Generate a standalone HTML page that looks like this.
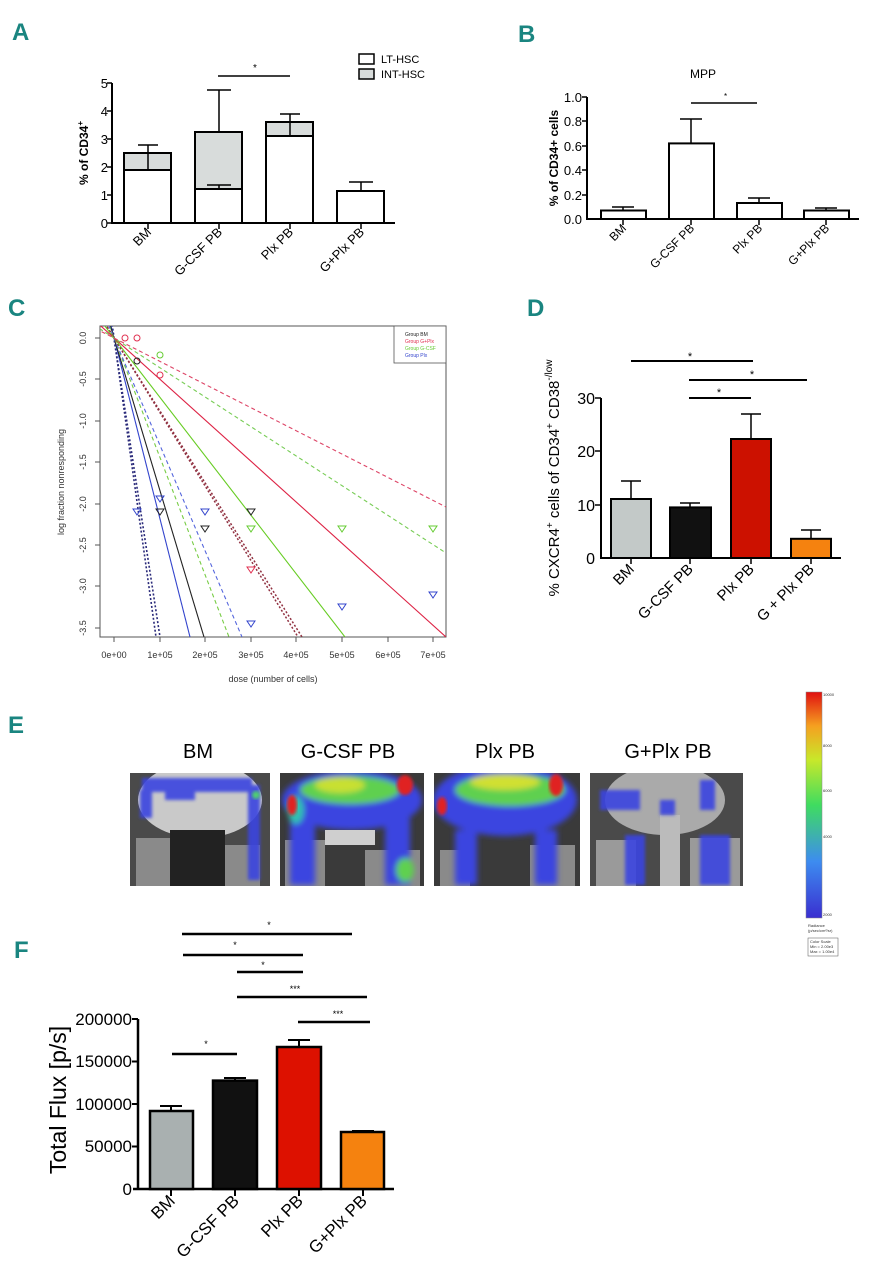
<!DOCTYPE html>
<html><head><meta charset="utf-8"><style>
html,body{margin:0;padding:0;background:#fff;}
svg{display:block;font-family:"Liberation Sans",Arial,sans-serif;}
.lt{font-family:"Liberation Sans Narrow","Liberation Sans",sans-serif;font-weight:bold;fill:#1a8580;font-size:24px;}
</style></head><body>
<svg width="876" height="1280" viewBox="0 0 876 1280" xmlns="http://www.w3.org/2000/svg">
<defs>
<clipPath id="cc"><rect x="100" y="326" width="346" height="311"/></clipPath>
<clipPath id="i1"><rect x="130" y="773" width="140" height="113"/></clipPath>
<clipPath id="i2"><rect x="280" y="773" width="144" height="113"/></clipPath>
<clipPath id="i3"><rect x="434" y="773" width="146" height="113"/></clipPath>
<clipPath id="i4"><rect x="590" y="773" width="153" height="113"/></clipPath>
<filter id="bl" x="-20%" y="-20%" width="140%" height="140%"><feGaussianBlur stdDeviation="3"/></filter>
<filter id="bl2"><feGaussianBlur stdDeviation="1.5"/></filter>
<linearGradient id="cb" x1="0" y1="1" x2="0" y2="0">
<stop offset="0" stop-color="#3a2fd0"/><stop offset="0.25" stop-color="#3d8cf0"/><stop offset="0.5" stop-color="#3fdc60"/><stop offset="0.7" stop-color="#c8e82a"/><stop offset="0.85" stop-color="#f5a020"/><stop offset="1" stop-color="#e01010"/></linearGradient>
</defs>

<!-- Letters -->
<text class="lt" x="12" y="40">A</text>
<text class="lt" x="518" y="42">B</text>
<text class="lt" x="8" y="316">C</text>
<text class="lt" x="527" y="316">D</text>
<text class="lt" x="8" y="733">E</text>
<text class="lt" x="14" y="958">F</text>

<!-- Panel A -->
<g stroke="#000" stroke-width="2" fill="none">
<line x1="112" y1="83" x2="112" y2="224"/><line x1="111" y1="223" x2="395" y2="223"/>
<g stroke-width="1.5"><line x1="107" y1="83" x2="112" y2="83"/><line x1="107" y1="111" x2="112" y2="111"/><line x1="107" y1="139" x2="112" y2="139"/><line x1="107" y1="167" x2="112" y2="167"/><line x1="107" y1="195" x2="112" y2="195"/><line x1="107" y1="223" x2="112" y2="223"/>
<line x1="148" y1="223" x2="148" y2="229"/><line x1="219" y1="223" x2="219" y2="229"/><line x1="290" y1="223" x2="290" y2="229"/><line x1="361" y1="223" x2="361" y2="229"/></g>
<rect x="124" y="153" width="47" height="70" fill="#fff"/><rect x="124" y="153" width="47" height="17" fill="#d8dcdb"/><line x1="124" y1="170" x2="171" y2="170"/>
<rect x="195" y="132" width="47" height="91" fill="#fff"/><rect x="195" y="132" width="47" height="57" fill="#d8dcdb"/><line x1="195" y1="189" x2="242" y2="189"/>
<rect x="266" y="122" width="47" height="101" fill="#fff"/><rect x="266" y="122" width="47" height="14" fill="#d8dcdb"/><line x1="266" y1="136" x2="313" y2="136"/>
<rect x="337" y="191" width="47" height="32" fill="#fff"/>
<g stroke-width="1.5"><line x1="148" y1="170" x2="148" y2="145"/><line x1="138" y1="145" x2="158" y2="145"/>
<line x1="219" y1="132" x2="219" y2="90"/><line x1="207" y1="90" x2="231" y2="90"/>
<line x1="219" y1="189" x2="219" y2="185"/><line x1="207" y1="185" x2="231" y2="185"/>
<line x1="290" y1="136" x2="290" y2="114"/><line x1="280" y1="114" x2="300" y2="114"/>
<line x1="361" y1="191" x2="361" y2="182"/><line x1="349" y1="182" x2="373" y2="182"/>
<line x1="218" y1="76" x2="290" y2="76"/></g>
<rect x="359" y="54" width="15" height="10" stroke-width="1.5" fill="#fff"/><rect x="359" y="69" width="15" height="10" stroke-width="1.5" fill="#d8dcdb"/>
</g>
<text x="253" y="71" font-size="10">*</text>
<g font-size="11"><text x="381" y="63">LT-HSC</text><text x="381" y="78">INT-HSC</text></g>
<g font-size="13" text-anchor="end"><text x="108" y="88">5</text><text x="108" y="116">4</text><text x="108" y="144">3</text><text x="108" y="172">2</text><text x="108" y="200">1</text><text x="108" y="228">0</text></g>
<text transform="translate(88,153) rotate(-90)" font-size="12" font-weight="bold" text-anchor="middle">% of  CD34<tspan font-size="8" dy="-5">+</tspan></text>
<g font-size="13" text-anchor="end">
<text transform="translate(152,233) rotate(-45)">BM</text>
<text transform="translate(223,233) rotate(-45)">G-CSF PB</text>
<text transform="translate(294,233) rotate(-45)">Plx PB</text>
<text transform="translate(365,233) rotate(-45)">G+Plx PB</text></g>

<!-- Panel B -->
<g stroke="#000" stroke-width="2" fill="#fff">
<line x1="587" y1="97" x2="587" y2="220"/><line x1="586" y1="219" x2="859" y2="219"/>
<g stroke-width="1.5"><line x1="582" y1="97" x2="587" y2="97"/><line x1="582" y1="121" x2="587" y2="121"/><line x1="582" y1="146" x2="587" y2="146"/><line x1="582" y1="170" x2="587" y2="170"/><line x1="582" y1="195" x2="587" y2="195"/>
<line x1="623" y1="219" x2="623" y2="225"/><line x1="691" y1="219" x2="691" y2="225"/><line x1="759" y1="219" x2="759" y2="225"/><line x1="826" y1="219" x2="826" y2="225"/></g>
<rect x="601" y="210.5" width="45" height="8.5"/><rect x="669" y="143.4" width="45" height="75.6"/><rect x="737" y="203" width="45" height="16"/><rect x="804" y="210.5" width="45" height="8.5"/>
<g stroke-width="1.5"><line x1="623" y1="210" x2="623" y2="207"/><line x1="612" y1="207" x2="634" y2="207"/>
<line x1="691" y1="143" x2="691" y2="119"/><line x1="680" y1="119" x2="702" y2="119"/>
<line x1="759" y1="203" x2="759" y2="198"/><line x1="748" y1="198" x2="770" y2="198"/>
<line x1="826" y1="210" x2="826" y2="208"/><line x1="815" y1="208" x2="837" y2="208"/>
<line x1="691" y1="103" x2="757" y2="103"/></g></g>
<text x="724" y="99" font-size="8">*</text>
<text x="703" y="78" font-size="12" text-anchor="middle">MPP</text>
<g font-size="13" text-anchor="end"><text x="582" y="102">1.0</text><text x="582" y="126">0.8</text><text x="582" y="151">0.6</text><text x="582" y="175">0.4</text><text x="582" y="200">0.2</text><text x="582" y="224">0.0</text></g>
<text transform="translate(558,158) rotate(-90)" font-size="12" font-weight="bold" text-anchor="middle">% of CD34+ cells</text>
<g font-size="12" text-anchor="end">
<text transform="translate(627,229) rotate(-45)">BM</text>
<text transform="translate(695,229) rotate(-45)">G-CSF PB</text>
<text transform="translate(763,229) rotate(-45)">Plx PB</text>
<text transform="translate(830,229) rotate(-45)">G+Plx PB</text></g>

<!-- Panel C -->
<rect x="100" y="326" width="346" height="311" fill="none" stroke="#555" stroke-width="1"/>
<g clip-path="url(#cc)" fill="none" stroke-width="1.1">
<line x1="107.7" y1="293" x2="156" y2="637" stroke="#2a2a7a" stroke-dasharray="2,2" stroke-width="1.6"/>
<line x1="107.1" y1="293" x2="160" y2="637" stroke="#2a2a7a" stroke-dasharray="2,2" stroke-width="1.6"/>
<line x1="102.6" y1="293" x2="190" y2="637" stroke="#3344cc"/>
<line x1="100.5" y1="293" x2="204" y2="637" stroke="#222"/>
<line x1="96.75" y1="293" x2="229" y2="637" stroke="#77cc44" stroke-dasharray="4,3"/>
<line x1="94.8" y1="293" x2="242" y2="637" stroke="#5566dd" stroke-dasharray="4,3"/>
<line x1="86.4" y1="293" x2="298" y2="637" stroke="#903040" stroke-dasharray="2,2" stroke-width="1.5"/>
<line x1="85.8" y1="293" x2="302" y2="637" stroke="#903040" stroke-dasharray="2,2" stroke-width="1.5"/>
<line x1="79.35" y1="293" x2="345" y2="637" stroke="#66cc22"/>
<line x1="64.2" y1="293" x2="446" y2="637" stroke="#dd2244"/>
<line x1="64.2" y1="305.75" x2="446" y2="553" stroke="#77cc55" stroke-dasharray="4,3"/>
<line x1="64.2" y1="312.65" x2="446" y2="507" stroke="#dd4466" stroke-dasharray="4,3"/>
</g>
<g fill="none" stroke-width="1">
<circle cx="125" cy="338" r="3" stroke="#e03050"/><circle cx="137" cy="338" r="3" stroke="#e03050"/><circle cx="160" cy="355" r="3" stroke="#66cc33"/><circle cx="137" cy="361" r="3" stroke="#222"/><circle cx="160" cy="375" r="3" stroke="#e03050"/>
</g>
<g fill="none" stroke-width="1">
<path d="M133,509h8l-4,6z" stroke="#3344cc"/><path d="M156,496h8l-4,6z" stroke="#3344cc"/><path d="M156,509h8l-4,6z" stroke="#222"/><path d="M201,509h8l-4,6z" stroke="#3344cc"/><path d="M201,526h8l-4,6z" stroke="#222"/><path d="M247,509h8l-4,6z" stroke="#222"/><path d="M247,526h8l-4,6z" stroke="#66cc33"/><path d="M247,567h8l-4,6z" stroke="#e03050"/><path d="M247,621h8l-4,6z" stroke="#3344cc"/><path d="M338,526h8l-4,6z" stroke="#66cc33"/><path d="M338,604h8l-4,6z" stroke="#3344cc"/><path d="M429,526h8l-4,6z" stroke="#66cc33"/><path d="M429,592h8l-4,6z" stroke="#3344cc"/>
</g>
<rect x="394" y="326" width="52" height="37" fill="#fff" stroke="#555" stroke-width="0.8"/>
<g font-size="5"><text x="405" y="336" fill="#222">Group BM</text><text x="405" y="343" fill="#e03050">Group G+Plx</text><text x="405" y="350" fill="#66cc33">Group G-CSF</text><text x="405" y="357" fill="#3344cc">Group Plx</text></g>
<g stroke="#555" stroke-width="1"><line x1="114" y1="637" x2="114" y2="642"/><line x1="160" y1="637" x2="160" y2="642"/><line x1="205" y1="637" x2="205" y2="642"/><line x1="251" y1="637" x2="251" y2="642"/><line x1="296" y1="637" x2="296" y2="642"/><line x1="342" y1="637" x2="342" y2="642"/><line x1="388" y1="637" x2="388" y2="642"/><line x1="433" y1="637" x2="433" y2="642"/>
<line x1="95" y1="338" x2="100" y2="338"/><line x1="95" y1="379" x2="100" y2="379"/><line x1="95" y1="421" x2="100" y2="421"/><line x1="95" y1="462" x2="100" y2="462"/><line x1="95" y1="504" x2="100" y2="504"/><line x1="95" y1="545" x2="100" y2="545"/><line x1="95" y1="586" x2="100" y2="586"/><line x1="95" y1="628" x2="100" y2="628"/></g>
<g font-size="9" fill="#333" text-anchor="middle"><text x="114" y="658">0e+00</text><text x="160" y="658">1e+05</text><text x="205" y="658">2e+05</text><text x="251" y="658">3e+05</text><text x="296" y="658">4e+05</text><text x="342" y="658">5e+05</text><text x="388" y="658">6e+05</text><text x="433" y="658">7e+05</text></g>
<g font-size="9" fill="#333" text-anchor="middle">
<text transform="translate(86,338) rotate(-90)">0.0</text><text transform="translate(86,379) rotate(-90)">-0.5</text><text transform="translate(86,421) rotate(-90)">-1.0</text><text transform="translate(86,462) rotate(-90)">-1.5</text><text transform="translate(86,504) rotate(-90)">-2.0</text><text transform="translate(86,545) rotate(-90)">-2.5</text><text transform="translate(86,586) rotate(-90)">-3.0</text><text transform="translate(86,628) rotate(-90)">-3.5</text></g>
<text x="273" y="682" font-size="9" fill="#333" text-anchor="middle">dose (number of cells)</text>
<text transform="translate(64,482) rotate(-90)" font-size="9" fill="#333" text-anchor="middle">log fraction nonresponding</text>

<!-- Panel D -->
<g stroke="#000" stroke-width="2">
<line x1="601" y1="398" x2="601" y2="559"/><line x1="600" y1="558" x2="841" y2="558"/>
<g stroke-width="1.5"><line x1="595" y1="398" x2="601" y2="398"/><line x1="595" y1="451" x2="601" y2="451"/><line x1="595" y1="505" x2="601" y2="505"/>
<line x1="631" y1="558" x2="631" y2="564"/><line x1="690" y1="558" x2="690" y2="564"/><line x1="751" y1="558" x2="751" y2="564"/><line x1="811" y1="558" x2="811" y2="564"/></g>
<rect x="611" y="499" width="40" height="59" fill="#c3c9c8"/><rect x="670" y="507.4" width="41" height="50.6" fill="#111"/><rect x="731" y="439" width="40" height="119" fill="#cc1100"/><rect x="791" y="538.8" width="40" height="19.2" fill="#f5820f"/>
<g stroke-width="1.5"><line x1="631" y1="499" x2="631" y2="481"/><line x1="621" y1="481" x2="641" y2="481"/>
<line x1="690" y1="507" x2="690" y2="503"/><line x1="680" y1="503" x2="700" y2="503"/>
<line x1="751" y1="439" x2="751" y2="414"/><line x1="741" y1="414" x2="761" y2="414"/>
<line x1="811" y1="539" x2="811" y2="530"/><line x1="801" y1="530" x2="821" y2="530"/></g>
<line x1="631" y1="361" x2="753" y2="361"/><line x1="689" y1="380" x2="807" y2="380"/><line x1="689" y1="398" x2="751" y2="398"/>
</g>
<g font-size="11" text-anchor="middle"><text x="690" y="360">*</text><text x="752" y="378">*</text><text x="719" y="396">*</text></g>
<g font-size="16" text-anchor="end"><text x="595" y="404">30</text><text x="595" y="457">20</text><text x="595" y="511">10</text><text x="595" y="564">0</text></g>
<text transform="translate(559,478) rotate(-90)" font-size="15" text-anchor="middle">% CXCR4<tspan font-size="10" dy="-6">+</tspan><tspan dy="6"> cells of CD34</tspan><tspan font-size="10" dy="-6">+</tspan><tspan dy="6"> CD38</tspan><tspan font-size="10" dy="-7">-/low</tspan></text>
<g font-size="15" text-anchor="end">
<text transform="translate(635,570) rotate(-45)">BM</text>
<text transform="translate(694,570) rotate(-45)">G-CSF  PB</text>
<text transform="translate(755,570) rotate(-45)">Plx PB</text>
<text transform="translate(815,570) rotate(-45)">G + Plx PB</text></g>

<!-- Panel E -->
<g font-size="20" text-anchor="middle"><text x="198" y="758">BM</text><text x="348" y="758">G-CSF PB</text><text x="505" y="758">Plx  PB</text><text x="668" y="758">G+Plx  PB</text></g>
<g clip-path="url(#i1)"><rect x="130" y="773" width="140" height="113" fill="#4a4a4a"/>
<rect x="136" y="838" width="50" height="48" fill="#8a8a8a"/><rect x="220" y="845" width="40" height="41" fill="#8a8a8a"/>
<ellipse cx="200" cy="800" rx="62" ry="38" fill="#c9c9c9"/><rect x="170" y="830" width="55" height="56" fill="#222"/>
<g filter="url(#bl2)" fill="#3a45e0" opacity="0.9"><rect x="142" y="778" width="110" height="14"/><rect x="140" y="790" width="12" height="28"/><rect x="248" y="785" width="12" height="95"/><rect x="165" y="792" width="30" height="8"/></g>
<circle cx="256" cy="795" r="4" fill="#50d070" filter="url(#bl2)"/></g>
<g clip-path="url(#i2)"><rect x="280" y="773" width="144" height="113" fill="#3a3a3a"/>
<rect x="285" y="840" width="40" height="46" fill="#8a8a8a"/><rect x="365" y="850" width="55" height="36" fill="#8a8a8a"/>
<g filter="url(#bl)"><ellipse cx="352" cy="800" rx="70" ry="30" fill="#3a45e0"/><rect x="290" y="810" width="25" height="75" fill="#3a45e0"/><rect x="385" y="810" width="25" height="75" fill="#3a45e0"/>
<ellipse cx="350" cy="790" rx="50" ry="14" fill="#5fd050"/><ellipse cx="340" cy="785" rx="25" ry="8" fill="#c8e030"/>
<ellipse cx="296" cy="810" rx="8" ry="14" fill="#30c0b0"/><ellipse cx="405" cy="870" rx="9" ry="12" fill="#5fd050"/></g>
<ellipse cx="405" cy="785" rx="8" ry="10" fill="#e02020" filter="url(#bl2)"/><ellipse cx="292" cy="805" rx="5" ry="10" fill="#e02020" filter="url(#bl2)"/>
<rect x="325" y="830" width="50" height="15" fill="#cfcfcf"/></g>
<g clip-path="url(#i3)"><rect x="434" y="773" width="146" height="113" fill="#3a3a3a"/>
<rect x="440" y="850" width="30" height="36" fill="#8a8a8a"/><rect x="530" y="845" width="45" height="41" fill="#8a8a8a"/>
<g filter="url(#bl)"><ellipse cx="505" cy="800" rx="72" ry="36" fill="#3a45e0"/><rect x="455" y="830" width="22" height="55" fill="#3a45e0"/><rect x="535" y="830" width="22" height="55" fill="#3a45e0"/>
<ellipse cx="510" cy="790" rx="55" ry="16" fill="#5fd050"/><ellipse cx="505" cy="782" rx="35" ry="8" fill="#d0e030"/></g>
<ellipse cx="556" cy="785" rx="7" ry="11" fill="#e02020" filter="url(#bl2)"/><ellipse cx="442" cy="806" rx="5" ry="9" fill="#e02020" filter="url(#bl2)"/></g>
<g clip-path="url(#i4)"><rect x="590" y="773" width="153" height="113" fill="#4a4a4a"/>
<rect x="596" y="840" width="40" height="46" fill="#9a9a9a"/><rect x="690" y="838" width="50" height="48" fill="#9a9a9a"/>
<ellipse cx="665" cy="800" rx="60" ry="35" fill="#aaa"/><rect x="660" y="815" width="20" height="71" fill="#bbb"/>
<g filter="url(#bl2)" fill="#3a45e0" opacity="0.9"><rect x="600" y="790" width="40" height="20"/><rect x="625" y="835" width="20" height="50"/><rect x="700" y="780" width="15" height="30"/><rect x="700" y="835" width="30" height="50"/><rect x="660" y="800" width="15" height="15"/></g></g>
<rect x="806" y="692" width="16" height="226" fill="url(#cb)" stroke="#888" stroke-width="0.5"/>
<g font-size="4" fill="#333"><text x="823" y="696">10000</text><text x="823" y="747">8000</text><text x="823" y="792">6000</text><text x="823" y="838">4000</text><text x="823" y="916">2000</text>
<text x="808" y="927">Radiance</text><text x="808" y="932">(p/sec/cm²/sr)</text><text x="810" y="943">Color Scale</text><text x="810" y="948">Min = 2.00e3</text><text x="810" y="953">Max = 1.00e4</text></g>
<rect x="808" y="938" width="30" height="18" fill="none" stroke="#555" stroke-width="0.5"/>

<!-- Panel F -->
<g stroke="#000" stroke-width="2.5">
<line x1="138" y1="1019" x2="138" y2="1190"/><line x1="133" y1="1189" x2="394" y2="1189"/>
<g stroke-width="2"><line x1="132" y1="1019" x2="138" y2="1019"/><line x1="132" y1="1061.5" x2="138" y2="1061.5"/><line x1="132" y1="1104" x2="138" y2="1104"/><line x1="132" y1="1146.5" x2="138" y2="1146.5"/>
<line x1="171" y1="1189" x2="171" y2="1196"/><line x1="235" y1="1189" x2="235" y2="1196"/><line x1="299" y1="1189" x2="299" y2="1196"/><line x1="363" y1="1189" x2="363" y2="1196"/></g>
<rect x="150" y="1111" width="43" height="78" fill="#a9b0b0"/><rect x="213" y="1080.6" width="44" height="108.4" fill="#111"/><rect x="277" y="1047" width="44" height="142" fill="#dd1100"/><rect x="341" y="1132" width="43" height="57" fill="#f5820f"/>
<g stroke-width="2"><line x1="171" y1="1111" x2="171" y2="1106"/><line x1="160" y1="1106" x2="182" y2="1106"/>
<line x1="235" y1="1080" x2="235" y2="1078"/><line x1="224" y1="1078" x2="246" y2="1078"/>
<line x1="299" y1="1047" x2="299" y2="1040"/><line x1="288" y1="1040" x2="310" y2="1040"/>
<line x1="363" y1="1132" x2="363" y2="1131"/><line x1="352" y1="1131" x2="374" y2="1131"/></g>
<line x1="182" y1="934" x2="352" y2="934"/><line x1="183" y1="955" x2="303" y2="955"/><line x1="237" y1="972" x2="303" y2="972"/><line x1="237" y1="997" x2="367" y2="997"/><line x1="298" y1="1022" x2="370" y2="1022"/><line x1="172" y1="1054" x2="237" y2="1054"/>
</g>
<g font-size="9" text-anchor="middle"><text x="269" y="928">*</text><text x="235" y="948">*</text><text x="263" y="968">*</text><text x="295" y="992">***</text><text x="338" y="1017">***</text><text x="206" y="1047">*</text></g>
<g font-size="17" text-anchor="end"><text x="132" y="1025">200000</text><text x="132" y="1067">150000</text><text x="132" y="1110">100000</text><text x="132" y="1152">50000</text><text x="132" y="1195">0</text></g>
<text transform="translate(66,1100) rotate(-90)" font-size="23" text-anchor="middle">Total Flux [p/s]</text>
<g font-size="17" text-anchor="end">
<text transform="translate(176,1202) rotate(-45)">BM</text>
<text transform="translate(240,1202) rotate(-45)">G-CSF PB</text>
<text transform="translate(304,1202) rotate(-45)">Plx PB</text>
<text transform="translate(368,1202) rotate(-45)">G+Plx PB</text></g>
</svg>
</body></html>
